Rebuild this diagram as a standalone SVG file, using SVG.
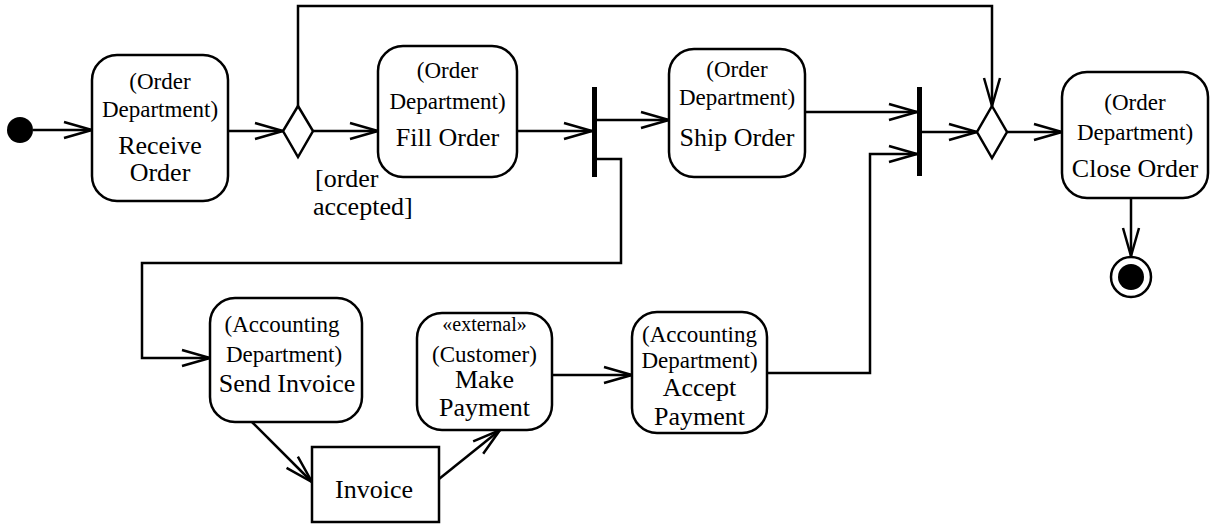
<svg xmlns="http://www.w3.org/2000/svg" width="1210" height="525" viewBox="0 0 1210 525">
<style>
.box{fill:#fff;stroke:#000;stroke-width:2.5}
.edge{fill:none;stroke:#000;stroke-width:2.5;marker-end:url(#arr)}
text{fill:#000;text-anchor:middle}
.s{font-size:23px}
.l{font-size:26px}
</style>
<defs>
<marker id="arr" markerUnits="userSpaceOnUse" markerWidth="32" markerHeight="24" viewBox="-30 -12 32 24" refX="0" refY="0" orient="auto" overflow="visible">
<path d="M-28,-8 L0,0 L-28,8" fill="none" stroke="#000" stroke-width="2.5"/>
</marker>
</defs>
<rect width="1210" height="525" fill="#fff"/>
<g id="connectors">
<path class="edge" d="M33,130 H92"/>
<path class="edge" d="M228,131 H283"/>
<path class="edge" d="M313,131 H378"/>
<path class="edge" d="M298,107 V6 H992 V106"/>
<path class="edge" d="M517,131 H592"/>
<path class="edge" d="M597,120 H669"/>
<path class="edge" d="M597,159 H621 V263 H142 V358 H210"/>
<path class="edge" d="M805,112 H917"/>
<path class="edge" d="M767,373 H870 V154 H917"/>
<path class="edge" d="M922,132 H977"/>
<path class="edge" d="M1007,132 H1062"/>
<path class="edge" d="M1131,198 V256"/>
<path class="edge" d="M252,422 L312,482"/>
<path class="edge" d="M439,479 L500,430"/>
<path class="edge" d="M552,375 H632"/>
</g>
<g font-family="'Liberation Serif', 'DejaVu Serif', serif">
<g id="initial"><circle cx="20" cy="130" r="13" fill="#000"/></g>
<g id="receive-order">
<rect class="box" x="92" y="55" width="136" height="146" rx="25"/>
<text class="s" x="160" y="89">(Order</text>
<text class="s" x="160" y="117">Department)</text>
<text class="l" x="160" y="154">Receive</text>
<text class="l" x="160" y="181">Order</text>
</g>
<g id="decision1"><path class="box" d="M298,106 L313,131 L298,157 L283,131 Z"/></g>
<g id="guard"><text class="l" x="315" y="187" text-anchor="start" style="text-anchor:start">[order</text><text class="l" x="313" y="215" style="text-anchor:start">accepted]</text></g>
<g id="fill-order">
<rect class="box" x="378" y="46" width="139" height="131" rx="25"/>
<text class="s" x="447.5" y="78">(Order</text>
<text class="s" x="447.5" y="109">Department)</text>
<text class="l" x="447.5" y="146">Fill Order</text>
</g>
<g id="fork1"><rect x="592" y="87" width="5" height="90" fill="#000"/></g>
<g id="ship-order">
<rect class="box" x="669" y="49" width="136" height="128" rx="25"/>
<text class="s" x="737" y="77">(Order</text>
<text class="s" x="737" y="105">Department)</text>
<text class="l" x="737" y="146">Ship Order</text>
</g>
<g id="join"><rect x="917" y="87" width="5" height="89" fill="#000"/></g>
<g id="decision2"><path class="box" d="M992,106 L1007,132 L992,158 L977,132 Z"/></g>
<g id="close-order">
<rect class="box" x="1062" y="72" width="146" height="126" rx="25"/>
<text class="s" x="1135" y="110">(Order</text>
<text class="s" x="1135" y="140">Department)</text>
<text class="l" x="1135" y="177">Close Order</text>
</g>
<g id="final">
<circle cx="1131" cy="277" r="20" fill="#fff" stroke="#000" stroke-width="2.5"/>
<circle cx="1131" cy="277" r="13" fill="#000"/>
</g>
<g id="send-invoice">
<rect class="box" x="210" y="298" width="152" height="124" rx="25"/>
<text class="s" x="282" y="332">(Accounting</text>
<text class="s" x="284" y="362">Department)</text>
<text class="l" x="287" y="392">Send Invoice</text>
</g>
<g id="invoice">
<rect class="box" x="312" y="447" width="127" height="75"/>
<text class="l" x="374" y="498">Invoice</text>
</g>
<g id="make-payment">
<rect class="box" x="417" y="313" width="135" height="117" rx="25"/>
<text class="s" x="484.5" y="331" style="font-size:20px">«external»</text>
<text class="s" x="484.5" y="362">(Customer)</text>
<text class="l" x="484.5" y="388">Make</text>
<text class="l" x="484.5" y="416">Payment</text>
</g>
<g id="accept-payment">
<rect class="box" x="632" y="312" width="135" height="121" rx="25"/>
<text class="s" x="699.5" y="342">(Accounting</text>
<text class="s" x="699.5" y="368">Department)</text>
<text class="l" x="699.5" y="396">Accept</text>
<text class="l" x="699.5" y="425">Payment</text>
</g>
</g>
</svg>
